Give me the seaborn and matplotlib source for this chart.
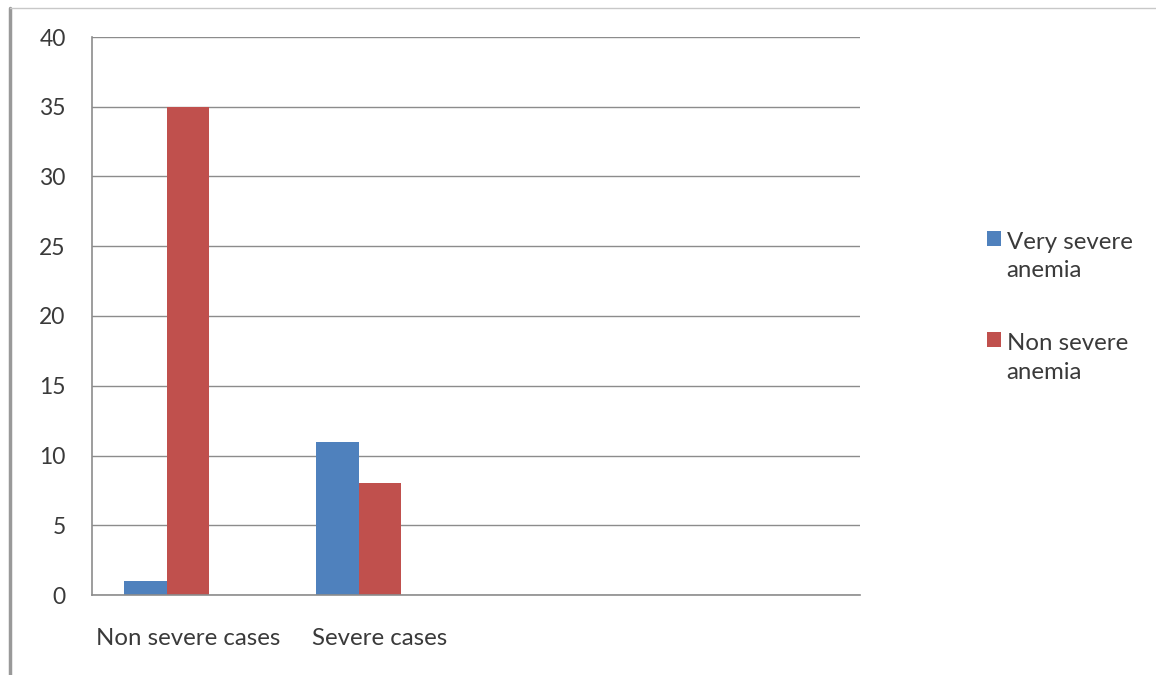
import numpy as np
import pandas as pd
import seaborn as sns
import matplotlib.pyplot as plt
from matplotlib.lines import Line2D
from matplotlib.patches import Patch, Rectangle
from matplotlib.legend_handler import HandlerPatch

# Datos del grafico
categorias = ["Non severe cases", "Severe cases", "", " "]
series = ["Very severe\nanemia", "Non severe\nanemia", "Serie 3"]  # la tercera serie esta vacia
muy_severa = [1, 11]
no_severa = [35, 8]
colores = ["#4F81BD", "#C0504D", "#9BBB59"]

df = pd.DataFrame({
    "caso": categorias[:2] * 2,
    "tipo": [series[0]] * 2 + [series[1]] * 2,
    "valor": muy_severa + no_severa,
})

sns.set_theme(style="white")
plt.rcParams['font.family'] = ['Lato', 'DejaVu Sans']

fig = plt.figure(figsize=(11.56, 6.75), dpi=100)
ax = fig.add_axes([92 / 1156, 1 - 595 / 675, 768 / 1156, 558 / 675])

sns.barplot(data=df, x="caso", y="valor", hue="tipo", order=categorias,
            hue_order=series, palette=colores, width=0.67, gap=0,
            saturation=1, linewidth=0, ax=ax, legend=False)

ax.set_xlim(-0.5, 3.5)
ax.set_ylim(0, 40)
ax.set_yticks(np.arange(0, 41, 5))
ax.yaxis.grid(True, color="#8c8c8c", linewidth=1)
ax.set_axisbelow(True)
ax.set_xlabel("")
ax.set_ylabel("")

# ticks en los bordes de cada categoria, etiquetas al centro
ax.set_xticks(np.arange(-0.5, 4, 1))
ax.set_xticklabels([])
ax.set_xticks(np.arange(0, 4), minor=True)
ax.set_xticklabels(categorias, minor=True)
ax.tick_params(axis="x", which="major", length=6, width=1.2, color="#8c8c8c", direction="out")
ax.tick_params(axis="x", which="minor", length=0, pad=23.5, labelsize=17.3, labelcolor="#3a3a3a")
ax.tick_params(axis="y", length=7, width=1, color="#8c8c8c", direction="out",
               labelsize=16.5, labelcolor="#3a3a3a", pad=12)

for s in ["top", "right"]:
    ax.spines[s].set_visible(False)
for s in ["left", "bottom"]:
    ax.spines[s].set_color("#8c8c8c")
    ax.spines[s].set_linewidth(1.2)


# cuadrado de la leyenda alineado con la primera linea del texto
def cuadrado_arriba(legend, orig_handle, xdescent, ydescent, width, height, fontsize):
    return Rectangle((-xdescent, -ydescent + 0.75 * fontsize), width, height)


handles = [Patch(facecolor=c, edgecolor="none") for c in colores[:2]]
leg = fig.legend(handles, series[:2], loc="upper left", bbox_to_anchor=(965 / 1156, 1 - 210 / 675),
                 frameon=False, fontsize=17.3, handlelength=0.58, handleheight=0.58,
                 handletextpad=0.25, labelspacing=2.15,
                 handler_map={Patch: HandlerPatch(patch_func=cuadrado_arriba)})
for t in leg.get_texts():
    t.set_color("#3a3a3a")
    t.set_linespacing(1.45)

# marco del grafico
fig.add_artist(Line2D([10 / 1156, 10 / 1156], [0, 1 - 8 / 675], color="#999999", linewidth=2.5))
fig.add_artist(Line2D([10 / 1156, 1], [1 - 8 / 675, 1 - 8 / 675], color="#c8c8c8", linewidth=1))

fig.savefig("out.png", dpi=100)
